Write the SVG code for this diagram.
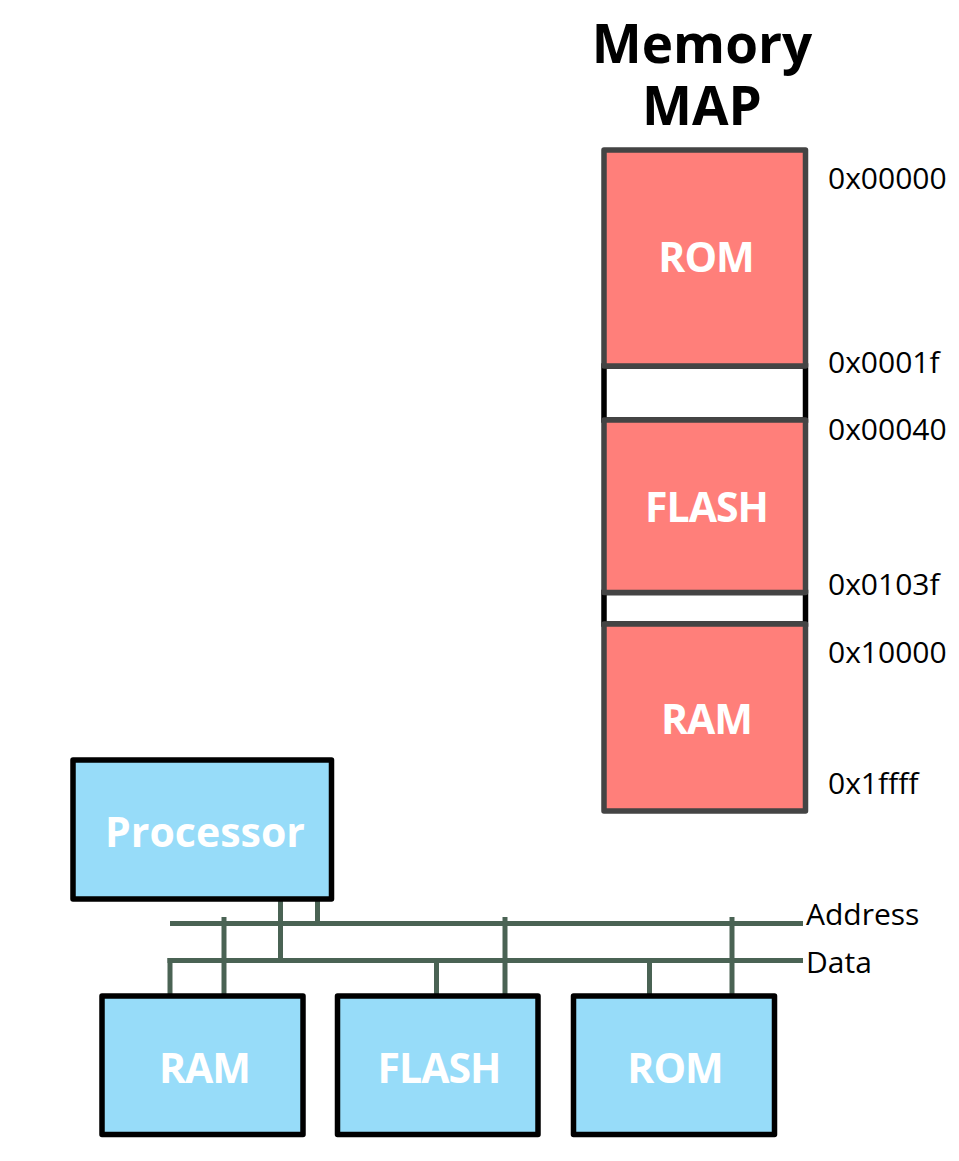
<svg xmlns="http://www.w3.org/2000/svg" width="959" height="1161" viewBox="0 0 959 1161">
<style>
.blk{fill:#97dcf9;stroke:#000;stroke-width:5.5;stroke-linejoin:round}
.mem{fill:#ff7f7a;stroke:#444;stroke-width:5.5;stroke-linejoin:round}
.gap{fill:#fff;stroke:#000;stroke-width:5.5}
.lbl{font-family:"Open Sans","Noto Sans",sans-serif;font-weight:bold;font-size:41px;fill:#fff;text-anchor:middle;letter-spacing:-1px}
.proc{letter-spacing:0}
.addr{font-family:"Open Sans","Noto Sans",sans-serif;font-size:30px;fill:#000}
.title{font-family:"Open Sans","Noto Sans",sans-serif;font-weight:bold;font-size:53px;fill:#000;text-anchor:middle}
.bus{stroke:#4a6354;stroke-width:5;fill:none}
</style>
<rect width="959" height="1161" fill="#fff"/>
<g id="title">
<text class="title" x="702" y="63">Memory</text>
<text class="title" x="702" y="125">MAP</text>
</g>
<g id="memory-map">
<rect class="gap" x="604" y="366" width="201.5" height="54"/>
<rect class="gap" x="604" y="592.5" width="201.5" height="31.5"/>
<g id="map-rom"><rect class="mem" x="604" y="150" width="201.5" height="216"/><text class="lbl" x="706" y="272">ROM</text></g>
<g id="map-flash"><rect class="mem" x="604" y="420" width="201.5" height="172.5"/><text class="lbl" x="706.5" y="522">FLASH</text></g>
<g id="map-ram"><rect class="mem" x="604" y="624" width="201.5" height="187"/><text class="lbl" x="706.5" y="734">RAM</text></g>
<g id="addresses">
<text class="addr" x="828" y="189">0x00000</text>
<text class="addr" x="828" y="373">0x0001f</text>
<text class="addr" x="828" y="440">0x00040</text>
<text class="addr" x="828" y="595">0x0103f</text>
<text class="addr" x="828" y="663">0x10000</text>
<text class="addr" x="828" y="794">0x1ffff</text>
</g>
</g>
<g id="connectors">
<path class="bus" d="M170 923.5H803"/>
<path class="bus" d="M167.5 960.5H803"/>
<path class="bus" d="M170 958V1000"/>
<path class="bus" d="M224 917V1000"/>
<path class="bus" d="M280.5 899V962"/>
<path class="bus" d="M317.5 899V925"/>
<path class="bus" d="M436.5 960V1000"/>
<path class="bus" d="M505 917V1000"/>
<path class="bus" d="M649.5 960V1000"/>
<path class="bus" d="M732 917V1000"/>
<text class="addr" x="806" y="925">Address</text>
<text class="addr" x="806" y="973">Data</text>
</g>
<g id="processor"><rect class="blk" x="73" y="760" width="258.5" height="139"/><text class="lbl proc" x="205" y="847">Processor</text></g>
<g id="ram"><rect class="blk" x="102" y="996" width="201" height="138.5"/><text class="lbl" x="204.5" y="1083">RAM</text></g>
<g id="flash"><rect class="blk" x="337.5" y="996" width="200.5" height="138.5"/><text class="lbl" x="439" y="1083">FLASH</text></g>
<g id="rom"><rect class="blk" x="573.5" y="996" width="201" height="138.5"/><text class="lbl" x="675" y="1083">ROM</text></g>
</svg>
